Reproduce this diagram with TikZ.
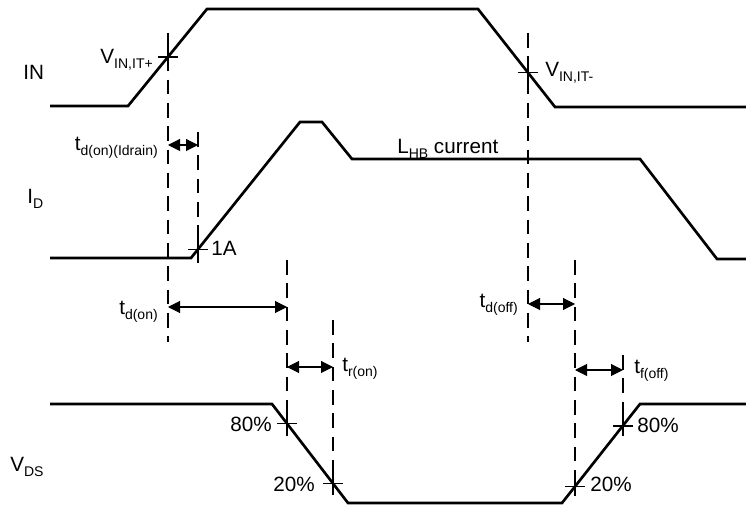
\documentclass[tikz,border=0pt]{standalone}
\usepackage{fontspec}
\setmainfont{Liberation Sans}
\usetikzlibrary{arrows.meta}
\newcommand{\lo}[1]{\raisebox{-0.4ex}{\fontsize{10.5}{10.5}\selectfont #1}}
\tikzset{
  wave/.style={line width=2pt, line join=miter},
  guide/.style={line width=0.8pt, dash pattern=on 11pt off 6.5pt},
  tick/.style={line width=0.8pt},
  span/.style={line width=0.8pt, {Triangle[length=9pt,width=9pt]}-{Triangle[length=9pt,width=9pt]}},
  lbl/.style={inner sep=0pt, font=\fontsize{15.5}{17}\selectfont}
}
\begin{document}
\begin{tikzpicture}[x=0.75pt, y=-0.75pt]
  \useasboundingbox (0,0) rectangle (746,505);
  % waveforms
  \coordinate (in0) at (50,106); \coordinate (in1) at (128,106); \coordinate (in2) at (207,9);
  \coordinate (in3) at (478,9); \coordinate (in4) at (555,107); \coordinate (in5) at (746,107);
  \draw[wave] (in0)--(in1)--(in2)--(in3)--(in4)--(in5);
  \coordinate (id0) at (50,258); \coordinate (id1) at (191,258); \coordinate (id2) at (300,122);
  \coordinate (id3) at (322,122); \coordinate (id4) at (352,159); \coordinate (id5) at (640,159);
  \coordinate (id6) at (717,259); \coordinate (id7) at (746,259);
  \draw[wave] (id0)--(id1)--(id2)--(id3)--(id4)--(id5)--(id6)--(id7);
  \coordinate (vd0) at (50,404); \coordinate (vd1) at (272,404); \coordinate (vd2) at (348,503);
  \coordinate (vd3) at (562,503); \coordinate (vd4) at (640,404); \coordinate (vd5) at (746,404);
  \draw[wave] (vd0)--(vd1)--(vd2)--(vd3)--(vd4)--(vd5);
  % crossing points
  \coordinate (vp) at (168,57); \coordinate (vm) at (528,72.6); \coordinate (oneA) at (198,249.3);
  \coordinate (r80) at (287,423.5); \coordinate (r20) at (333,483.5);
  \coordinate (f20) at (575,486.5); \coordinate (f80) at (623,426);
  \foreach \p in {vp,vm,oneA,r80,r20,f20,f80}
    \draw[tick] (\p) ++(-10,0) -- ++(20,0) (\p) ++(0,-10) -- ++(0,20);
  % guides
  \foreach \x/\a/\b in {168/33/342, 198/132/272, 287/260/436, 333/320/495, 528/33/342, 575/260/496, 623/355/436}
    \draw[guide] (\x,\a) -- (\x,\b);
  % time spans
  \draw[span] (168,145) -- (198,145);
  \draw[span] (168,307) -- (287,307);
  \draw[span] (528,304) -- (575,304);
  \draw[span] (287,367) -- (333,367);
  \draw[span] (575,370) -- (623,370);
  % labels
  \node[lbl, anchor=base west] (lin) at (23,80) {IN};
  \node[lbl, anchor=base west] (lid) at (27,204) {I\lo{D}};
  \node[lbl, anchor=base west] (lvds) at (10,472) {V\lo{DS}};
  \node[lbl, anchor=base east] (lvp) at (153,64) {V\lo{IN,IT+}};
  \node[lbl, anchor=base west] (lvm) at (545,77) {V\lo{IN,IT-}};
  \node[lbl, anchor=base east] (ltdi) at (158,151) {t\lo{d(on)(Idrain)}};
  \node[lbl, anchor=base west] (llhb) at (397,154) {L\lo{HB} current};
  \node[lbl, anchor=base west] (l1a) at (211,256) {1A};
  \node[lbl, anchor=base east] (ltdon) at (158,315) {t\lo{d(on)}};
  \node[lbl, anchor=base east] (ltdoff) at (518,308) {t\lo{d(off)}};
  \node[lbl, anchor=base west] (ltron) at (342,372) {t\lo{r(on)}};
  \node[lbl, anchor=base west] (ltfoff) at (634,374) {t\lo{f(off)}};
  \node[lbl, anchor=base east] (lr80) at (272,432) {80\%};
  \node[lbl, anchor=base east] (lr20) at (315,492) {20\%};
  \node[lbl, anchor=base west] (lf80) at (637,433) {80\%};
  \node[lbl, anchor=base west] (lf20) at (590,492) {20\%};
\end{tikzpicture}
\end{document}
